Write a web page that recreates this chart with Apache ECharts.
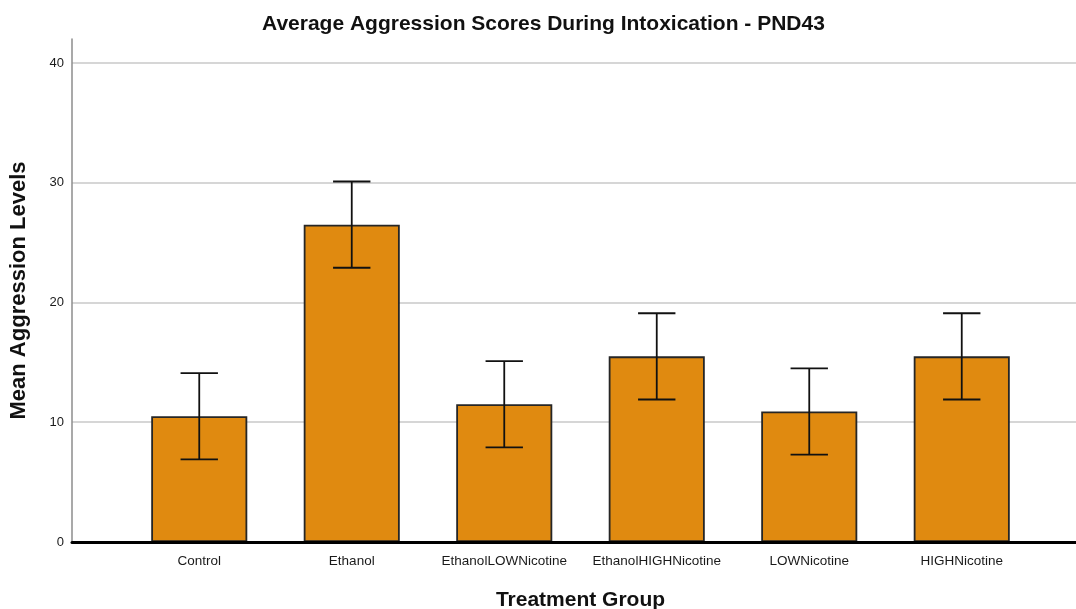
<!DOCTYPE html>
<html>
<head>
<meta charset="utf-8">
<title>Average Aggression Scores During Intoxication - PND43</title>
<script src="https://cdn.jsdelivr.net/npm/echarts@6/dist/echarts.min.js"></script>
<style>
  html, body { margin: 0; padding: 0; background: #ffffff; }
  #chart { width: 1076px; height: 609px; }
</style>
</head>
<body>
<div id="chart"></div>
<script>
// Treatment groups and mean aggression scores with their error-bar ranges
const groups = ['Control', 'Ethanol', 'EthanolLOWNicotine', 'EthanolHIGHNicotine', 'LOWNicotine', 'HIGHNicotine'];
const means = [10.5, 26.5, 11.5, 15.5, 10.9, 15.5];
const lowerBounds = [6.9, 22.9, 7.9, 11.9, 7.3, 11.9];
const upperBounds = [14.1, 30.1, 15.1, 19.1, 14.5, 19.1];
const yTicks = [0, 10, 20, 30, 40];

const FONT = '"Liberation Sans", Arial, sans-serif';
const yMin = yTicks[0];
const yMax = 42;

const chart = echarts.init(document.getElementById('chart'), null, { renderer: 'canvas' });

const errorData = groups.map((g, i) => [i, lowerBounds[i], upperBounds[i]]);

chart.setOption({
  backgroundColor: '#ffffff',
  animation: false,
  title: {
    text: 'Average Aggression Scores During Intoxication - PND43',
    left: 257,
    top: 9,
    textStyle: { fontFamily: FONT, fontSize: 21, fontWeight: 'bold', color: '#111' }
  },
  grid: [
    // frame: value axis, gridlines and baseline across the full width
    { left: 72, right: 0, top: 39, bottom: 67, containLabel: false, outerBoundsMode: 'none' },
    // bars
    { left: 123, right: 38, top: 39, bottom: 67, containLabel: false, outerBoundsMode: 'none' }
  ],
  xAxis: [
    {
      gridIndex: 0, type: 'value', min: 0, max: 1, z: 10,
      axisLine: { show: true, onZero: false, lineStyle: { color: '#000', width: 3 } },
      axisTick: { show: false }, axisLabel: { show: false }, splitLine: { show: false }
    },
    {
      gridIndex: 1, type: 'category', data: groups,
      axisLine: { show: false, onZero: false }, axisTick: { show: false },
      axisLabel: { interval: 0, fontFamily: FONT, fontSize: 13.5, color: '#1a1a1a', margin: 12 },
      name: 'Treatment Group', nameLocation: 'middle', nameGap: 48,
      nameTextStyle: { fontFamily: FONT, fontSize: 21, fontWeight: 'bold', color: '#111' }
    }
  ],
  yAxis: [
    {
      gridIndex: 0, type: 'value', min: yMin, max: yMax, interval: 10,
      axisLine: { show: true, lineStyle: { color: '#8c8c8c', width: 1.5 } },
      axisTick: { show: false },
      axisLabel: { fontFamily: FONT, fontSize: 13, color: '#1a1a1a', margin: 8, showMaxLabel: false },
      splitLine: { show: true, showMaxLine: false, showMinLine: false, lineStyle: { color: '#c8c8c8', width: 1.5 } },
      name: 'Mean Aggression Levels', nameLocation: 'middle', nameGap: 42,
      nameTextStyle: { fontFamily: FONT, fontSize: 22, fontWeight: 'bold', color: '#111' }
    },
    {
      gridIndex: 1, type: 'value', min: yMin, max: yMax, interval: 10, show: false,
      splitLine: { show: false }
    }
  ],
  series: [
    {
      type: 'bar',
      xAxisIndex: 1, yAxisIndex: 1,
      data: means,
      barWidth: '63%',
      itemStyle: { color: '#e08a10', borderColor: '#262626', borderWidth: 1.8 },
      z: 2
    },
    {
      type: 'custom',
      xAxisIndex: 1, yAxisIndex: 1,
      data: errorData,
      z: 5,
      renderItem: function (params, api) {
        const x = api.value(0);
        const lo = api.coord([x, api.value(1)]);
        const hi = api.coord([x, api.value(2)]);
        const half = api.size([1, 0])[0] * 0.245 / 2;
        const style = { stroke: '#111', lineWidth: 1.8, fill: null };
        return {
          type: 'group',
          children: [
            { type: 'line', shape: { x1: hi[0], y1: hi[1], x2: lo[0], y2: lo[1] }, style: style },
            { type: 'line', shape: { x1: hi[0] - half, y1: hi[1], x2: hi[0] + half, y2: hi[1] }, style: style },
            { type: 'line', shape: { x1: lo[0] - half, y1: lo[1], x2: lo[0] + half, y2: lo[1] }, style: style }
          ]
        };
      }
    }
  ]
});
</script>
</body>
</html>
